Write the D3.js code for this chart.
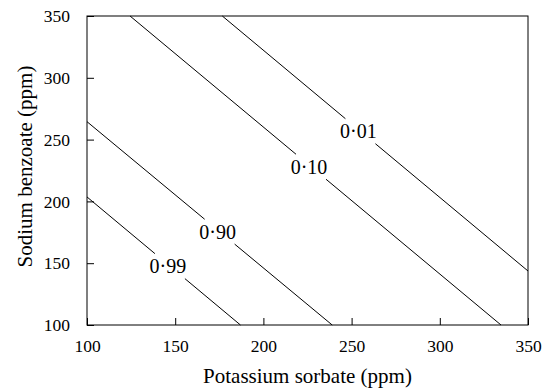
<!DOCTYPE html>
<html>
<head>
<meta charset="utf-8">
<script src="https://cdn.jsdelivr.net/npm/d3@7"></script>
<style>
  body { margin: 0; background: #fff; }
</style>
</head>
<body>
<svg id="chart" width="546" height="391"></svg>
<script>
// tick values for both axes
const xTicks = [100, 150, 200, 250, 300, 350];
const yTicks = [100, 150, 200, 250, 300, 350];

// contour lines (probability levels), read as straight segments
const levels = ["0·01", "0·10", "0·90", "0·99"];
const lineX = [
  [176.7, 350],
  [124.4, 334.7],
  [100, 239],
  [100, 187]
];
const lineY = [
  [350, 143.7],
  [350, 100],
  [264.5, 100],
  [203.6, 100]
];
// x value where each label sits on its line
const labelX = [255, 227, 175.2, 147];

const W = 546, H = 391;
const margin = { top: 16, right: 18, bottom: 66, left: 87 };
const FONT = "'Liberation Serif', 'Times New Roman', serif";

const svg = d3.select("#chart").attr("font-family", FONT);

const x = d3.scaleLinear().domain([100, 350]).range([margin.left, W - margin.right]);
const y = d3.scaleLinear().domain([100, 350]).range([H - margin.bottom, margin.top]);

// axes, ticks pointing inward
svg.append("g")
  .attr("transform", `translate(0,${H - margin.bottom})`)
  .call(d3.axisBottom(x).tickValues(xTicks).tickSizeInner(-7).tickSizeOuter(0).tickPadding(15))
  .attr("font-family", FONT).attr("font-size", 17.5)
  .call(g => g.select(".domain").remove());

svg.append("g")
  .attr("transform", `translate(${margin.left},0)`)
  .call(d3.axisLeft(y).tickValues(yTicks).tickSizeInner(-7).tickSizeOuter(0).tickPadding(17))
  .attr("font-family", FONT).attr("font-size", 17.5)
  .call(g => g.select(".domain").remove());

// frame
svg.append("rect")
  .attr("x", x(100)).attr("y", y(350))
  .attr("width", x(350) - x(100)).attr("height", y(100) - y(350))
  .attr("fill", "none").attr("stroke", "#000").attr("stroke-width", 1);

// contour lines, broken around their labels
const gap = 15; // px either side of label, along x
const line = d3.line().x(d => x(d[0])).y(d => y(d[1]));

levels.forEach((lab, i) => {
  const xs = lineX[i], ys = lineY[i];
  const at = v => ys[0] + (ys[1] - ys[0]) * (v - xs[0]) / (xs[1] - xs[0]);
  const lx = labelX[i];
  const x0 = x.invert(x(lx) - gap), x1 = x.invert(x(lx) + gap);

  const segs = [
    [[xs[0], ys[0]], [x0, at(x0)]],
    [[x1, at(x1)], [xs[1], ys[1]]]
  ];
  svg.append("g").selectAll("path")
    .data(segs)
    .join("path")
    .attr("d", line)
    .attr("fill", "none")
    .attr("stroke", "#000")
    .attr("stroke-width", 1);

  svg.append("text")
    .attr("x", x(lx) - 2)
    .attr("y", y(at(lx)) + 7)
    .attr("text-anchor", "middle")
    .attr("font-size", 20)
    .text(lab);
});

// axis titles
svg.append("text")
  .attr("x", (x(100) + x(350)) / 2)
  .attr("y", 383)
  .attr("text-anchor", "middle")
  .attr("font-size", 21)
  .text("Potassium sorbate (ppm)");

svg.append("text")
  .attr("transform", `translate(32,${(y(100) + y(350)) / 2 - 4}) rotate(-90)`)
  .attr("text-anchor", "middle")
  .attr("font-size", 21)
  .text("Sodium benzoate (ppm)");
</script>
</body>
</html>
